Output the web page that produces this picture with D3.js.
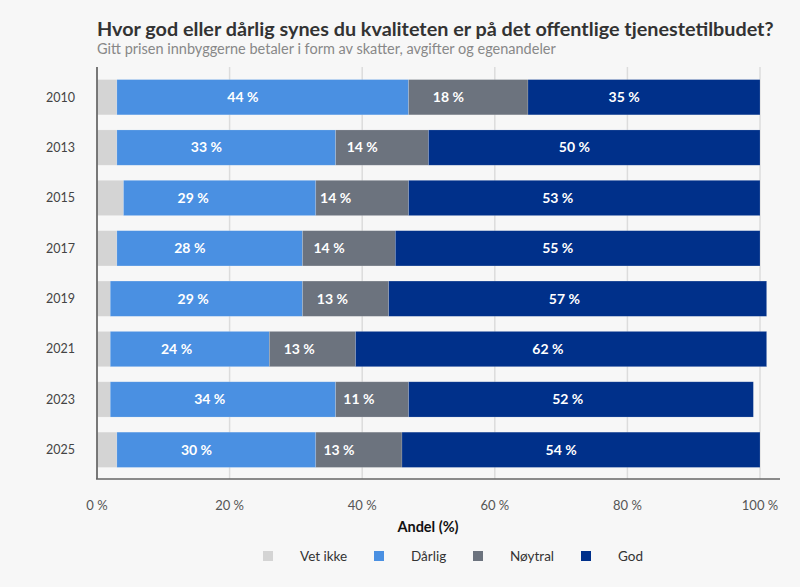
<!DOCTYPE html>
<html>
<head>
<meta charset="utf-8">
<script src="https://cdn.jsdelivr.net/npm/d3@7"></script>
<style>
  body { margin: 0; background: #f7f7f7; font-family: Lato, "Open Sans", sans-serif; }
  svg { display: block; }
</style>
</head>
<body>
<svg id="chart" width="800" height="587"></svg>
<script>
// data
const years = ["2010", "2013", "2015", "2017", "2019", "2021", "2023", "2025"];
const vetIkke = [3, 3, 4, 3, 2, 2, 2, 3];
const darlig  = [44, 33, 29, 28, 29, 24, 34, 30];
const noytral = [18, 14, 14, 14, 13, 13, 11, 13];
const god     = [35, 50, 53, 55, 57, 62, 52, 54];
const seriesNames = ["Vet ikke", "Dårlig", "Nøytral", "God"];
const seriesColors = ["#d4d4d4", "#4a90e2", "#6c737e", "#00308a"];
const xTicks = [0, 20, 40, 60, 80, 100];

const svg = d3.select("#chart");
svg.append("rect").attr("width", 800).attr("height", 587).attr("fill", "#f7f7f7");

const x = d3.scaleLinear().domain([0, 100]).range([97, 760]);
const y = d3.scaleBand().domain(years).range([68, 479]).paddingInner(0.3).paddingOuter(0.23);

// title
svg.append("text").attr("x", 97).attr("y", 36)
  .attr("font-size", 19.8).attr("font-weight", 700).attr("fill", "#333")
  .text("Hvor god eller dårlig synes du kvaliteten er på det offentlige tjenestetilbudet?");
svg.append("text").attr("x", 97).attr("y", 54)
  .attr("font-size", 14.5).attr("fill", "#888")
  .text("Gitt prisen innbyggerne betaler i form av skatter, avgifter og egenandeler");

// grid
svg.append("g").selectAll("line").data(xTicks).join("line")
  .attr("x1", d => x(d)).attr("x2", d => x(d))
  .attr("y1", 67).attr("y2", 479)
  .attr("stroke", "#dcdcdc").attr("stroke-width", 1.5);

// stacked bars
const rows = years.map((yr, i) => ({ year: yr, vals: [vetIkke[i], darlig[i], noytral[i], god[i]] }));
const barG = svg.append("g");
rows.forEach(r => {
  let cum = 0;
  r.vals.forEach((v, k) => {
    barG.append("rect")
      .attr("x", x(cum)).attr("y", y(r.year))
      .attr("width", x(cum + v) - x(cum)).attr("height", y.bandwidth())
      .attr("fill", seriesColors[k])
      .attr("stroke", "#ffffff").attr("stroke-opacity", 0.25).attr("stroke-width", 0.6);
    cum += v;
  });
});

// value labels (positioned from the start of Dårlig at 0, like the original)
const labG = svg.append("g");
rows.forEach(r => {
  let cum = 0;
  r.vals.slice(1).forEach(v => {
    labG.append("text")
      .attr("x", x(cum + v / 2)).attr("y", y(r.year) + y.bandwidth() / 2)
      .attr("dy", "0.35em").attr("text-anchor", "middle")
      .attr("font-size", 14).attr("font-weight", 700).attr("fill", "#fff")
      .text(v + " %");
    cum += v;
  });
});

// year labels
svg.append("g").selectAll("text").data(years).join("text")
  .attr("x", 75).attr("y", d => y(d) + y.bandwidth() / 2)
  .attr("dy", "0.35em").attr("text-anchor", "end")
  .attr("font-size", 12.5).attr("fill", "#444")
  .text(d => d);

// axis lines
svg.append("line").attr("x1", 97).attr("x2", 97).attr("y1", 67).attr("y2", 479)
  .attr("stroke", "#555").attr("stroke-width", 1.5);
svg.append("line").attr("x1", 96).attr("x2", 780).attr("y1", 479).attr("y2", 479)
  .attr("stroke", "#666").attr("stroke-width", 1.5);

// x tick labels
svg.append("g").selectAll("text").data(xTicks).join("text")
  .attr("x", d => x(d)).attr("y", 510)
  .attr("text-anchor", "middle")
  .attr("font-size", 13).attr("fill", "#555")
  .text(d => d + " %");

svg.append("text").attr("x", 428).attr("y", 532)
  .attr("text-anchor", "middle").attr("font-size", 14.5).attr("font-weight", 700).attr("fill", "#111")
  .text("Andel (%)");

// legend
const legX = [263, 374, 473, 581];
const leg = svg.append("g");
seriesNames.forEach((n, k) => {
  leg.append("rect").attr("x", legX[k]).attr("y", 551).attr("width", 10).attr("height", 10)
    .attr("fill", seriesColors[k]);
  leg.append("text").attr("x", legX[k] + 37).attr("y", 556).attr("dy", "0.35em")
    .attr("font-size", 13.5).attr("fill", "#333").text(n);
});
</script>
</body>
</html>
